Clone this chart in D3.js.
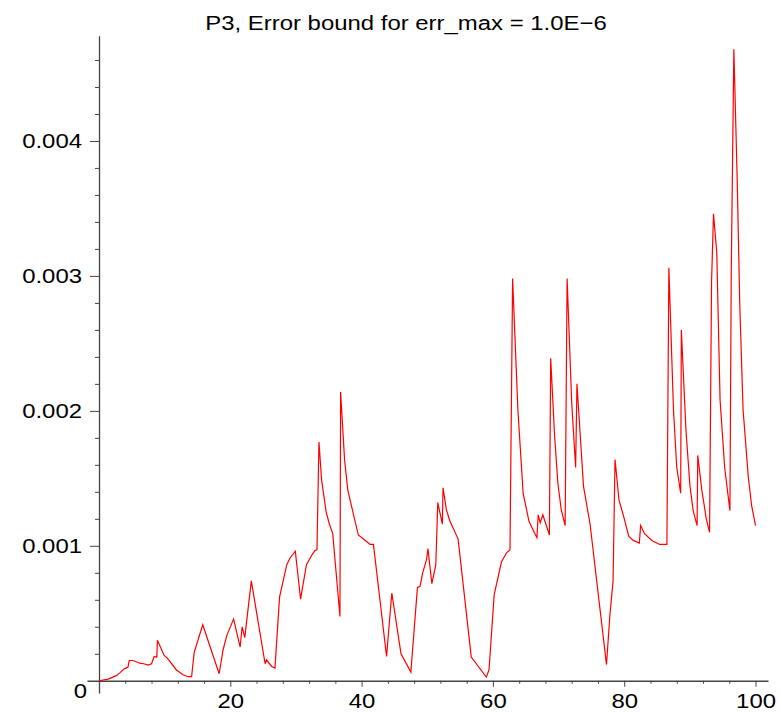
<!DOCTYPE html>
<html>
<head>
<meta charset="utf-8">
<script src="https://cdn.jsdelivr.net/npm/d3@7"></script>
<style>
	body { margin: 0; background: #fff; }
	text { font-family: "Liberation Sans", Arial, sans-serif; fill: #000; }
</style>
</head>
<body>
<svg id="chart" width="781" height="713"></svg>
<script>
// values
var xValues = [0, 1.4, 2.7, 3.2, 3.9, 4.4, 4.6, 5.2, 6.2, 6.8, 7.5, 8.0, 8.4, 8.8, 8.9, 9.9, 10.4, 11.8, 12.8, 13.6,
	14.1, 14.5, 15.8, 18.3, 18.9, 19.5, 20.5, 21.5, 21.8, 22.2, 23.2, 25.3, 25.5, 26.3, 26.8, 27.5, 28.6, 29.1,
	29.9, 30.7, 31.6, 32.4, 32.9, 33.2, 33.5, 33.9, 34.6, 35.1, 35.6, 36.7, 36.8, 37.4, 37.9, 39.5, 40.8, 41.3, 41.8,
	43.8, 44.6, 46.0, 47.5, 48.5, 48.9, 49.3, 49.9, 50.1, 50.7, 51.3, 51.6, 52.3, 52.4, 52.9, 53.4, 54.7,
	56.7, 59.0, 59.4, 60.2, 61.3, 62.1, 62.6, 63.0, 63.8, 64.6, 65.5, 66.7, 66.9, 67.2, 67.6, 68.6, 68.8, 69.4, 69.9,
	70.4, 71.0, 71.3, 72.0, 72.6, 72.8, 73.8, 74.8, 77.3, 77.8, 78.3, 78.6, 79.2, 79.9, 80.7, 81.4, 82.3, 82.5, 83.1,
	84.2, 85.4, 86.5, 86.8, 87.5, 88.0, 88.6, 88.7, 89.4, 90.0, 90.5, 91.1, 91.2, 91.8, 92.5, 93.0, 93.3, 93.6, 94.1,
	94.6, 95.3, 96.1, 96.3, 96.7, 97.2, 97.6, 98.1, 98.9, 99.4, 100];
var yValues = [0, 0.0000126, 0.00004, 0.00006, 0.00009, 0.0001, 0.00015, 0.00015, 0.00013, 0.000126, 0.000116, 0.000126,
	0.00018, 0.000175, 0.0003, 0.00019, 0.000168, 0.00008, 0.000044, 0.00003,
	0.00003, 0.00021, 0.000415, 0.000052, 0.00023, 0.00034, 0.000457, 0.00025, 0.0004, 0.00032, 0.00074, 0.000126,
	0.000155, 0.000106, 0.000094, 0.00062, 0.00086, 0.00091,
	0.00096, 0.000605, 0.00086, 0.00093, 0.000965, 0.00097, 0.00177, 0.00149, 0.00125, 0.00116, 0.00109, 0.000476,
	0.00214, 0.00164, 0.00141, 0.00108, 0.00103, 0.00101, 0.00101,
	0.00018, 0.00065, 0.0002, 0.000064, 0.00069, 0.0007, 0.0008, 0.0009, 0.00098, 0.00072, 0.00086, 0.00132, 0.00116,
	0.00143, 0.00127, 0.00119, 0.00105,
	0.000175, 0.000027, 0.00008, 0.00064, 0.00088, 0.00095, 0.00097, 0.00298, 0.00201, 0.00139, 0.00118, 0.00106,
	0.00123, 0.00117, 0.00123, 0.00108, 0.00239, 0.00181, 0.00146,
	0.00127, 0.00115, 0.00298, 0.00206, 0.00158, 0.0022, 0.00144, 0.00116, 0.00012, 0.000476, 0.00074, 0.00164,
	0.00134, 0.00122, 0.00107, 0.00104, 0.00102, 0.00115, 0.00109,
	0.00104, 0.00101, 0.00101, 0.00306, 0.00201, 0.00158, 0.00139, 0.0026, 0.00186, 0.00145, 0.00126, 0.00115,
	0.00167, 0.00142, 0.0012, 0.0011, 0.00295, 0.00346, 0.00317,
	0.00208, 0.00158, 0.00126, 0.00301, 0.00468, 0.00373, 0.00279, 0.00201, 0.00151, 0.0013, 0.00115];

var xMajorTicks = [20, 40, 60, 80, 100];
var xMinorTicks = [4, 8, 12, 16, 24, 28, 32, 36, 44, 48, 52, 56, 64, 68, 72, 76, 84, 88, 92, 96];
var yMajorTicks = [0.001, 0.002, 0.003, 0.004];
var yMinorTicks = [0.0002, 0.0004, 0.0006, 0.0008, 0.0012, 0.0014, 0.0016, 0.0018, 0.0022, 0.0024, 0.0026, 0.0028,
	0.0032, 0.0034, 0.0036, 0.0038, 0.0042, 0.0044, 0.0046];
var title = "P3, Error bound for err_max = 1.0E\u22126";

var svg = d3.select("#chart");
var fontSize = 21;
var stretch = 1.14; //the reference glyphs are wider than Liberation Sans

// axis extents (the lines run a bit past the data on both ends)
var x = d3.scaleLinear().domain([-1.83, 101.9]).range([87, 768]);
var y = d3.scaleLinear().domain([-0.0000907, 0.00478]).range([693, 35.7]);

var axisColor = "#444";

// x axis
var gx = svg.append("g").attr("transform", "translate(0," + y(0) + ")");
gx.call(d3.axisBottom(x).tickValues(xMinorTicks).tickSize(3).tickSizeOuter(0).tickFormat(""));
gx.append("g").call(d3.axisBottom(x).tickValues(xMajorTicks).tickSize(6).tickSizeOuter(0).tickPadding(6))
	.select(".domain").remove();

// y axis
var gy = svg.append("g").attr("transform", "translate(" + x(0) + ",0)");
gy.call(d3.axisLeft(y).tickValues(yMinorTicks).tickSize(4).tickSizeOuter(0).tickFormat(""));
gy.append("g").call(d3.axisLeft(y).tickValues(yMajorTicks).tickSize(9).tickSizeOuter(0).tickPadding(8)
		.tickFormat(d3.format(".3f")))
	.select(".domain").remove();

svg.selectAll(".domain").attr("stroke", axisColor).attr("stroke-width", 1.3);
svg.selectAll(".tick line").attr("stroke", axisColor);
svg.selectAll(".tick text")
	.attr("font-size", fontSize)
	.attr("font-family", null)
	.each(function() {
		var t = d3.select(this);
		var tx = +t.attr("x") || 0;
		t.attr("x", 0).attr("transform", "translate(" + tx + ",0) scale(" + stretch + ",1)");
	});

// the origin label sits below-left of the crossing
svg.append("text")
	.attr("transform", "translate(" + (x(0) - 12) + "," + (y(0) + 17) + ") scale(" + stretch + ",1)")
	.attr("text-anchor", "end")
	.attr("font-size", fontSize)
	.text("0");

// curve
var line = d3.line()
	.x(function(d) { return x(d[0]); })
	.y(function(d) { return y(d[1]); });

svg.append("path")
	.datum(d3.zip(xValues, yValues))
	.attr("fill", "none")
	.attr("stroke", "#ff0000")
	.attr("stroke-width", 1.2)
	.attr("stroke-linejoin", "miter")
	.attr("d", line);

// title
svg.append("text")
	.attr("transform", "translate(406,30) scale(" + stretch + ",1)")
	.attr("text-anchor", "middle")
	.attr("font-size", fontSize)
	.text(title);
</script>
</body>
</html>
